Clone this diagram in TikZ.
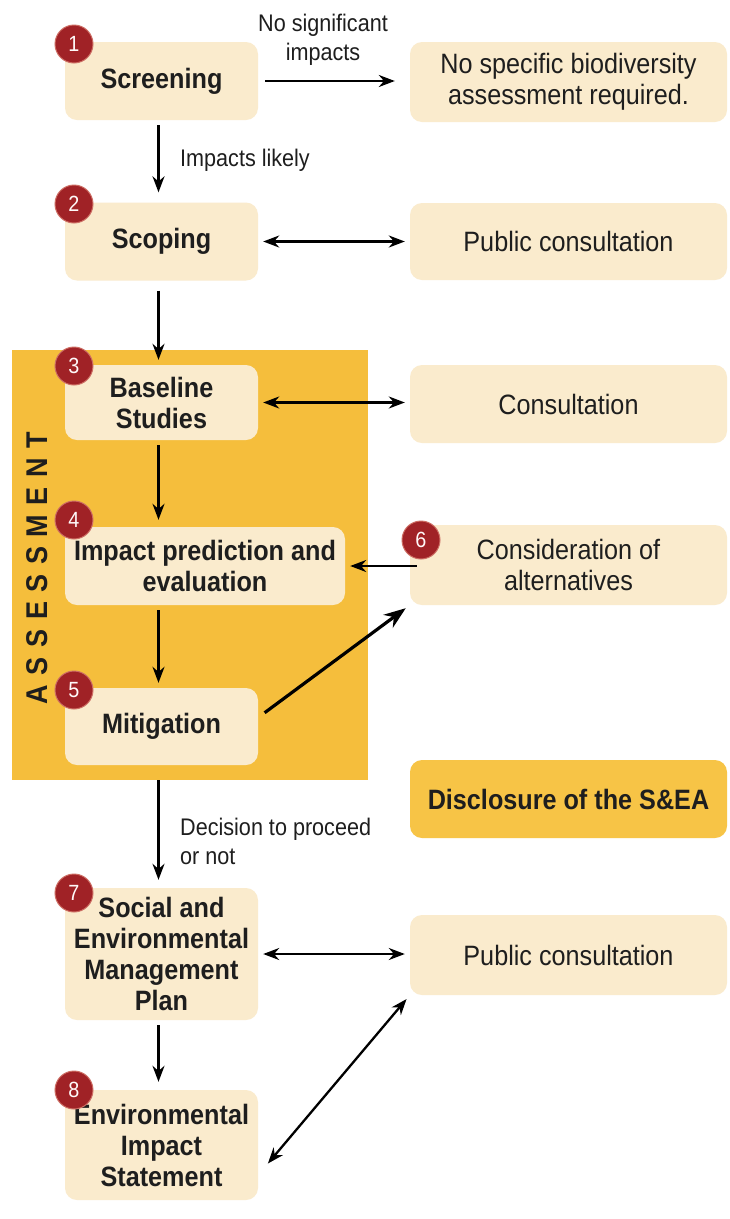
\documentclass[tikz,border=0pt]{standalone}
\usepackage{fontspec}
\setmainfont[FakeStretch=0.9]{Liberation Sans}
\newfontfamily\spacedfont[FakeStretch=0.9,LetterSpace=32]{Liberation Sans}
\usetikzlibrary{arrows.meta}
\definecolor{boxbeige}{RGB}{250,235,205}
\definecolor{assessorange}{RGB}{245,190,60}
\definecolor{discorange}{RGB}{247,196,70}
\definecolor{badgered}{RGB}{160,34,38}
\definecolor{badgerim}{RGB}{205,110,100}
\definecolor{textdark}{RGB}{30,30,30}
\tikzset{
  stepbox/.style={rounded corners=12pt, fill=boxbeige, minimum width=193pt, minimum height=78pt,
    align=center, inner sep=2pt, text=textdark, font={\fontsize{28}{31}\selectfont\bfseries}},
  sidebox/.style={rounded corners=12pt, fill=boxbeige, minimum width=317pt, minimum height=79pt,
    align=center, inner sep=2pt, text=textdark, font={\fontsize{28}{31}\selectfont}},
  badge/.style={circle, fill=badgered, draw=badgerim, line width=1pt, minimum size=38pt,
    inner sep=0pt, text=white!90!pink, font={\fontsize{22}{22}\selectfont}},
  lbl/.style={text=textdark, align=left, inner sep=0pt, font={\fontsize{24}{29}\selectfont}},
  arr/.style={-{Stealth[length=16pt,width=12pt]}, line width=2.3pt, draw=black},
  darr/.style={{Stealth[length=16pt,width=12pt]}-{Stealth[length=16pt,width=12pt]}, line width=2.3pt, draw=black},
  bigarr/.style={-{Stealth[length=22pt,width=16pt]}, line width=3.2pt, draw=black}
}
\begin{document}
\begin{tikzpicture}[x=1pt,y=-1pt]
\useasboundingbox (0,0) rectangle (729,1219);
\fill[white] (0,0) rectangle (729,1219);

% assessment background
\node[fill=assessorange, minimum width=356pt, minimum height=430pt, anchor=north west, inner sep=0pt] (assess) at (12,350) {};
\node[rotate=90, text=textdark, font={\fontsize{30}{30}\selectfont\spacedfont\bfseries}] (assesslbl) at (37,568) {ASSESSMENT};

% left column
\node[stepbox] (screen) at (161.5,81) {Screening};
\node[stepbox] (scope) at (161.5,241.5) {Scoping};
\node[stepbox, minimum height=75pt] (base) at (161.5,402.5) {Baseline\\Studies};
\node[stepbox, minimum width=280pt] (impact) at (205,566) {Impact prediction and\\evaluation};
\node[stepbox, minimum height=77pt] (mitig) at (161.5,726.5) {Mitigation};
\node[stepbox, minimum height=132pt] (semp) at (161.5,954) {Social and\\Environmental\\Management\\Plan};
\node[stepbox, minimum height=110pt] (eis) at (161.5,1145) {Environmental\\Impact\\Statement};

% right column
\node[sidebox, minimum height=80pt] (nospec) at (568.5,82) {No specific biodiversity\\assessment required.};
\node[sidebox, minimum height=77pt] (pub1) at (568.5,241.5) {Public consultation};
\node[sidebox, minimum height=78pt] (consult) at (568.5,404) {Consultation};
\node[sidebox, minimum height=80pt] (consid) at (568.5,565) {Consideration of\\alternatives};
\node[sidebox, minimum height=78pt, fill=discorange, font={\fontsize{28}{31}\selectfont\bfseries}] (disc) at (568.5,799) {Disclosure of the S\&EA};
\node[sidebox, minimum height=80pt] (pub2) at (568.5,955) {Public consultation};

% badges
\node[badge] (b1) at (74,44) {1};
\node[badge] (b2) at (74,204) {2};
\node[badge] (b3) at (74,366) {3};
\node[badge] (b4) at (74,520) {4};
\node[badge] (b5) at (74,690) {5};
\node[badge] (b6) at (421,540) {6};
\node[badge] (b7) at (74,893) {7};
\node[badge] (b8) at (74,1090) {8};

% labels
\node[lbl, align=center] (l1) at (323,40) {No significant\\impacts};
\node[lbl, anchor=west] (l2) at (180,160) {Impacts likely};
\node[lbl, anchor=west] (l3) at (180,841) {Decision to proceed\\or not};

% connectors
\draw[arr, shorten <=7pt, shorten >=15pt] (screen.east) -- (screen.east -| nospec.west);
\draw[arr, shorten <=5pt, shorten >=10pt] ([xshift=-3pt]screen.south) -- ([xshift=-3pt]scope.north);
\draw[darr, shorten <=5pt, shorten >=5pt] (scope.east) -- (scope.east -| pub1.west);
\draw[arr, shorten <=10pt, shorten >=5pt] ([xshift=-3pt]scope.south) -- ([xshift=-3pt]base.north);
\draw[darr, shorten <=5pt, shorten >=5pt] (base.east) -- (base.east -| consult.west);
\draw[arr, shorten <=5pt, shorten >=7pt] ([xshift=-3pt]base.south) -- ([xshift=-3pt]base.south |- impact.north);
\draw[arr, shorten <=-7pt, shorten >=5pt] (consid.west |- impact.east) -- (impact.east);
\draw[arr, shorten <=5pt, shorten >=5pt] ([xshift=-3pt]mitig.south |- impact.south) -- ([xshift=-3pt]mitig.north);
\draw[bigarr, shorten <=8pt, shorten >=5pt] ([yshift=9pt]mitig.east) -- (consid.south west);
\draw[arr, shorten <=0pt, shorten >=8pt] ([xshift=-3pt]mitig.south |- assess.south) -- ([xshift=-3pt]semp.north);
\draw[darr, shorten <=5pt, shorten >=5pt] (semp.east) -- (semp.east -| pub2.west);
\draw[arr, shorten <=5pt, shorten >=8pt] ([xshift=-3pt]semp.south) -- ([xshift=-3pt]eis.north);
\draw[darr, shorten <=15pt, shorten >=5pt] ([yshift=-30pt]eis.east) -- (pub2.south west);
\end{tikzpicture}
\end{document}
